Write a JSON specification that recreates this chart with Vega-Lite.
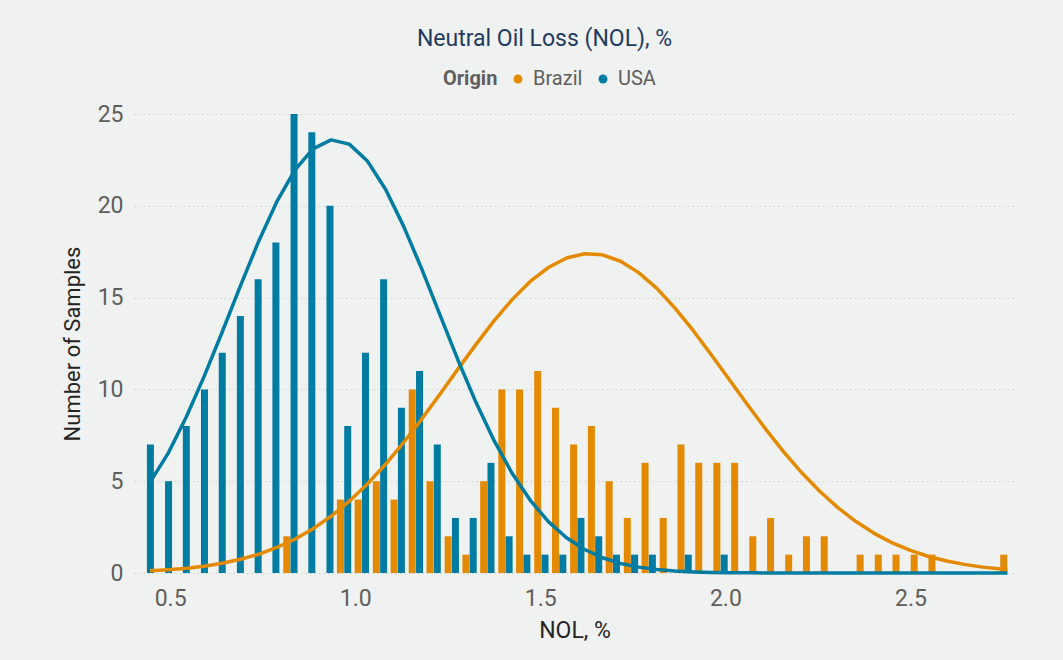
{
  "$schema": "https://vega.github.io/schema/vega-lite/v6.json",
  "width": 881,
  "height": 459,
  "autosize": {"type": "none"},
  "padding": {"left": 134, "top": 114, "right": 48, "bottom": 87},
  "background": "#F0F1F1",
  "config": {"view": {"stroke": null}, "font": "Roboto"},
  "title": {"text": "Neutral Oil Loss (NOL), %", "fontSize": 23, "fontWeight": "normal", "color": "#1F3B5F", "anchor": "middle", "dx": -30, "baseline": "alphabetic", "offset": 0},
  "datasets": {
    "bars": [
      {"nol": 0.437, "Brazil": 0, "USA": 7},
      {"nol": 0.486, "Brazil": 0, "USA": 5},
      {"nol": 0.534, "Brazil": 0, "USA": 8},
      {"nol": 0.583, "Brazil": 0, "USA": 10},
      {"nol": 0.631, "Brazil": 0, "USA": 12},
      {"nol": 0.680, "Brazil": 0, "USA": 14},
      {"nol": 0.728, "Brazil": 0, "USA": 16},
      {"nol": 0.776, "Brazil": 0, "USA": 18},
      {"nol": 0.825, "Brazil": 2, "USA": 25},
      {"nol": 0.873, "Brazil": 0, "USA": 24},
      {"nol": 0.922, "Brazil": 0, "USA": 20},
      {"nol": 0.970, "Brazil": 4, "USA": 8},
      {"nol": 1.018, "Brazil": 4, "USA": 12},
      {"nol": 1.067, "Brazil": 5, "USA": 16},
      {"nol": 1.115, "Brazil": 4, "USA": 9},
      {"nol": 1.164, "Brazil": 10, "USA": 11},
      {"nol": 1.212, "Brazil": 5, "USA": 7},
      {"nol": 1.261, "Brazil": 2, "USA": 3},
      {"nol": 1.309, "Brazil": 1, "USA": 3},
      {"nol": 1.357, "Brazil": 5, "USA": 6},
      {"nol": 1.406, "Brazil": 10, "USA": 2},
      {"nol": 1.454, "Brazil": 10, "USA": 1},
      {"nol": 1.503, "Brazil": 11, "USA": 1},
      {"nol": 1.551, "Brazil": 9, "USA": 1},
      {"nol": 1.600, "Brazil": 7, "USA": 3},
      {"nol": 1.648, "Brazil": 8, "USA": 2},
      {"nol": 1.696, "Brazil": 5, "USA": 1},
      {"nol": 1.745, "Brazil": 3, "USA": 1},
      {"nol": 1.793, "Brazil": 6, "USA": 1},
      {"nol": 1.842, "Brazil": 3, "USA": 0},
      {"nol": 1.890, "Brazil": 7, "USA": 1},
      {"nol": 1.938, "Brazil": 6, "USA": 0},
      {"nol": 1.987, "Brazil": 6, "USA": 1},
      {"nol": 2.035, "Brazil": 6, "USA": 0},
      {"nol": 2.084, "Brazil": 2, "USA": 0},
      {"nol": 2.132, "Brazil": 3, "USA": 0},
      {"nol": 2.181, "Brazil": 1, "USA": 0},
      {"nol": 2.229, "Brazil": 2, "USA": 0},
      {"nol": 2.277, "Brazil": 2, "USA": 0},
      {"nol": 2.374, "Brazil": 1, "USA": 0},
      {"nol": 2.423, "Brazil": 1, "USA": 0},
      {"nol": 2.471, "Brazil": 1, "USA": 0},
      {"nol": 2.520, "Brazil": 1, "USA": 0},
      {"nol": 2.568, "Brazil": 1, "USA": 0},
      {"nol": 2.762, "Brazil": 1, "USA": 0}
    ],
    "fits": [
      {"nol": 0.446, "USA": 4.95, "Brazil": 0.12},
      {"nol": 0.495, "USA": 6.53, "Brazil": 0.18},
      {"nol": 0.544, "USA": 8.51, "Brazil": 0.26},
      {"nol": 0.592, "USA": 10.71, "Brazil": 0.37},
      {"nol": 0.641, "USA": 13.14, "Brazil": 0.53},
      {"nol": 0.690, "USA": 15.64, "Brazil": 0.75},
      {"nol": 0.739, "USA": 18.05, "Brazil": 1.02},
      {"nol": 0.788, "USA": 20.21, "Brazil": 1.39},
      {"nol": 0.837, "USA": 21.94, "Brazil": 1.84},
      {"nol": 0.886, "USA": 23.10, "Brazil": 2.41},
      {"nol": 0.935, "USA": 23.59, "Brazil": 3.09},
      {"nol": 0.984, "USA": 23.36, "Brazil": 3.91},
      {"nol": 1.033, "USA": 22.44, "Brazil": 4.85},
      {"nol": 1.082, "USA": 20.90, "Brazil": 5.92},
      {"nol": 1.131, "USA": 18.88, "Brazil": 7.11},
      {"nol": 1.179, "USA": 16.60, "Brazil": 8.37},
      {"nol": 1.228, "USA": 14.11, "Brazil": 9.71},
      {"nol": 1.277, "USA": 11.63, "Brazil": 11.09},
      {"nol": 1.326, "USA": 9.31, "Brazil": 12.44},
      {"nol": 1.375, "USA": 7.22, "Brazil": 13.73},
      {"nol": 1.424, "USA": 5.43, "Brazil": 14.89},
      {"nol": 1.473, "USA": 3.96, "Brazil": 15.88},
      {"nol": 1.522, "USA": 2.80, "Brazil": 16.64},
      {"nol": 1.571, "USA": 1.92, "Brazil": 17.16},
      {"nol": 1.620, "USA": 1.28, "Brazil": 17.39},
      {"nol": 1.668, "USA": 0.83, "Brazil": 17.33},
      {"nol": 1.717, "USA": 0.52, "Brazil": 16.98},
      {"nol": 1.766, "USA": 0.32, "Brazil": 16.36},
      {"nol": 1.815, "USA": 0.19, "Brazil": 15.50},
      {"nol": 1.864, "USA": 0.11, "Brazil": 14.43},
      {"nol": 1.913, "USA": 0.06, "Brazil": 13.21},
      {"nol": 1.962, "USA": 0.03, "Brazil": 11.89},
      {"nol": 2.011, "USA": 0.02, "Brazil": 10.53},
      {"nol": 2.060, "USA": 0.01, "Brazil": 9.16},
      {"nol": 2.109, "USA": 0, "Brazil": 7.84},
      {"nol": 2.157, "USA": 0, "Brazil": 6.61},
      {"nol": 2.206, "USA": 0, "Brazil": 5.47},
      {"nol": 2.255, "USA": 0, "Brazil": 4.45},
      {"nol": 2.304, "USA": 0, "Brazil": 3.56},
      {"nol": 2.353, "USA": 0, "Brazil": 2.80},
      {"nol": 2.402, "USA": 0, "Brazil": 2.16},
      {"nol": 2.451, "USA": 0, "Brazil": 1.64},
      {"nol": 2.500, "USA": 0, "Brazil": 1.23},
      {"nol": 2.549, "USA": 0, "Brazil": 0.90},
      {"nol": 2.598, "USA": 0, "Brazil": 0.65},
      {"nol": 2.646, "USA": 0, "Brazil": 0.47},
      {"nol": 2.695, "USA": 0, "Brazil": 0.32},
      {"nol": 2.744, "USA": 0, "Brazil": 0.22},
      {"nol": 2.762, "USA": 0, "Brazil": 0.19}
    ]
  },
  "encoding": {
    "x": {
      "field": "nol",
      "type": "quantitative",
      "scale": {"domain": [0.416, 2.769], "nice": false, "zero": false},
      "title": "NOL, %",
      "axis": {
        "values": [0.5, 1, 1.5, 2, 2.5],
        "format": ".1f",
        "grid": false,
        "domain": false,
        "ticks": false,
        "tickSize": 0,
        "labelFontSize": 23,
        "labelColor": "#605E5C",
        "labelPadding": 14,
        "labelFlush": false,
        "titleFontSize": 23,
        "titleFontWeight": "normal",
        "titleColor": "#252423",
        "titlePadding": 9
      }
    },
    "y": {
      "type": "quantitative",
      "scale": {"domain": [0, 25], "nice": false},
      "title": "Number of Samples",
      "axis": {
        "values": [0, 5, 10, 15, 20, 25],
        "grid": true,
        "gridDash": [1.5, 3],
        "gridColor": "#CDCFCF",
        "domain": false,
        "ticks": false,
        "tickSize": 0,
        "labelFontSize": 23,
        "labelColor": "#605E5C",
        "labelPadding": 11,
        "titleFontSize": 22,
        "titleFontWeight": "normal",
        "titleColor": "#252423",
        "titlePadding": 13
      }
    },
    "color": {
      "datum": "Brazil",
      "type": "nominal",
      "scale": {"domain": ["Brazil", "USA"], "range": ["#E38A00", "#007CA2"]},
      "legend": {
        "orient": "none",
        "legendX": 309,
        "legendY": -45,
        "direction": "horizontal",
        "title": "Origin",
        "titleOrient": "left",
        "titleFontSize": 20,
        "titleFontWeight": "bold",
        "titleColor": "#605E5C",
        "titlePadding": 10,
        "labelFontSize": 20,
        "labelColor": "#605E5C",
        "labelOffset": 5,
        "columnPadding": 10,
        "symbolType": "circle",
        "symbolSize": 80,
        "symbolStrokeWidth": 0
      }
    }
  },
  "layer": [
    {
      "data": {"name": "bars"},
      "mark": {"type": "bar", "width": 7, "xOffset": -3.65},
      "encoding": {
        "y": {"field": "Brazil"},
        "color": {"datum": "Brazil", "type": "nominal"}
      }
    },
    {
      "data": {"name": "bars"},
      "mark": {"type": "bar", "width": 7, "xOffset": 3.65},
      "encoding": {
        "y": {"field": "USA"},
        "color": {"datum": "USA", "type": "nominal"}
      }
    },
    {
      "data": {"name": "fits"},
      "mark": {"type": "line", "strokeWidth": 3.5, "strokeJoin": "round"},
      "encoding": {
        "y": {"field": "Brazil"},
        "color": {"datum": "Brazil", "type": "nominal"}
      }
    },
    {
      "data": {"name": "fits"},
      "mark": {"type": "line", "strokeWidth": 3.5, "strokeJoin": "round"},
      "encoding": {
        "y": {"field": "USA"},
        "color": {"datum": "USA", "type": "nominal"}
      }
    }
  ]
}
